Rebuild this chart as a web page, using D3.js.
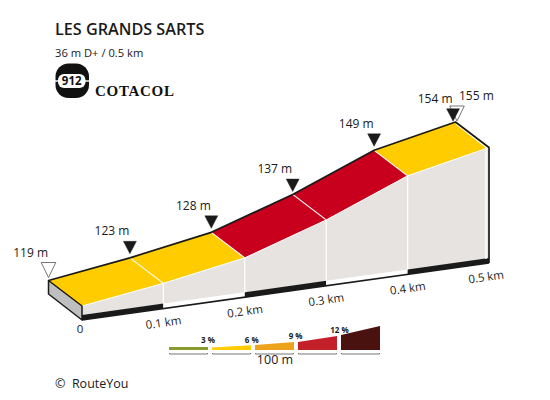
<!DOCTYPE html>
<html><head><meta charset="utf-8">
<script src="https://cdn.jsdelivr.net/npm/d3@7"></script>
<style>html,body{margin:0;padding:0;background:#fff}svg{display:block}text{font-family:"Open Sans",sans-serif;fill:#1a1a1a;white-space:pre}</style>
</head><body><svg id="c" width="550" height="400"></svg>
<script>
const title = "LES GRANDS SARTS";
const subtitle = "36 m D+ / 0.5 km";
const cotacolNumber = "912";
const cotacolName = "COTACOL";
const credit = "\u00A9  RouteYou";
const distances = [0, 0.1, 0.2, 0.3, 0.4, 0.5];
const elevations = [119, 123, 128, 137.4, 149, 155];
const distanceLabels = ["0", "0.1 km", "0.2 km", "0.3 km", "0.4 km", "0.5 km"];
const markerDistances = [0, 0.1, 0.2, 0.3, 0.4, 0.497, 0.5];
const markerElevations = [119, 123, 128, 137, 149, 154, 155];
const markerLabels = ["119 m", "123 m", "128 m", "137 m", "149 m", "154 m", "155 m"];
const markerHollow = [true, false, false, false, false, false, true];
const gradeBreaks = [3, 6, 9, 12];
const gradeColors = ["#8a9a2e", "#ffcc00", "#eda31c", "#c8001e", "#4a120e"];
const legendLabels = ["3 %", "6 %", "9 %", "12 %", ""];
const legendColors = ["#8a9a2e", "#ffcc00", "#eda31c", "#c4202a", "#4a120e"];
const legendStart = [3, 2.5, 5, 8, 15];
const legendEnd = [3, 4.7, 8, 14, 24];
const legendLength = "100 m";

const svg = d3.select("#c");
const X = d3.scaleLinear().domain([0, 0.5]).range([82, 489]);
const baseY = d3.scaleLinear().domain([0, 0.5]).range([320, 263]);
const H = d3.scaleLinear().domain([119, 155]).range([14, 115.5]);
const depth = [-33.5, -25.5];
const front = (d, e) => [X(d), baseY(d) - H(e)];
const back = (d, e) => [X(d) + depth[0], baseY(d) - H(e) + depth[1]];
const grade = pct => gradeColors[d3.bisectLeft(gradeBreaks, Math.round(pct * 10) / 10)];
const line = d3.line();
const N = distances.length;

// side wall
svg.append("path").attr("fill", "#e7e3e0").attr("d", line([
  ...distances.map((d, i) => front(d, elevations[i])),
  [X(0.5), baseY(0.5) - 4], [X(0), baseY(0) - 5]
]) + "Z");

// base strips (alternating)
for (let i = 0; i < N - 1; i++) {
  const a = distances[i], b = distances[i + 1];
  svg.append("path").attr("fill", i % 2 === 0 ? "#1a1a1a" : "#fff").attr("d", line([
    [X(a), baseY(a) - 5], [X(b), baseY(b) - 5], [X(b), baseY(b)], [X(a), baseY(a)]
  ]) + "Z");
}
svg.append("path").attr("fill", "none").attr("stroke", "#1a1a1a").attr("stroke-width", 1.6)
  .attr("d", line([[X(0), baseY(0)], [X(0.5), baseY(0.5)]]));

// road segments
for (let i = 0; i < N - 1; i++) {
  const pct = (elevations[i + 1] - elevations[i]) / ((distances[i + 1] - distances[i]) * 1000) * 100;
  svg.append("path").attr("fill", grade(pct)).attr("d", line([
    back(distances[i], elevations[i]), back(distances[i + 1], elevations[i + 1]),
    front(distances[i + 1], elevations[i + 1]), front(distances[i], elevations[i])
  ]) + "Z");
}
// white dividers
distances.forEach((d, i) => {
  const f = front(d, elevations[i]);
  if (i > 0 && i < N - 1) {
    svg.append("path").attr("stroke", "#fff").attr("stroke-width", 1.1).attr("fill", "none")
      .attr("d", line([back(d, elevations[i]), f]));
    svg.append("path").attr("stroke", "#fff").attr("stroke-width", 1.3).attr("fill", "none")
      .attr("d", line([f, [X(d), baseY(d) - 5]]));
  }
});
svg.append("path").attr("stroke", "#fff").attr("stroke-width", 1).attr("fill", "none")
  .attr("d", line(distances.map((d, i) => front(d, elevations[i]))));

// right white stripe and black edge
const fEnd = front(0.5, 155), bEnd = back(0.5, 155);
svg.append("path").attr("stroke", "#fff").attr("stroke-width", 1.4).attr("fill", "none")
  .attr("d", line([[fEnd[0] - 3, fEnd[1] + 1], [fEnd[0] - 3, baseY(0.5) - 4]]));
svg.append("path").attr("stroke", "#fff").attr("stroke-width", 1.4).attr("fill", "none")
  .attr("d", line([[bEnd[0] + 1, bEnd[1] + 2], [fEnd[0] - 1.5, fEnd[1] + 1]]));
svg.append("path").attr("stroke", "#1a1a1a").attr("stroke-width", 1.7).attr("fill", "none")
  .attr("stroke-linejoin", "round")
  .attr("d", line([...distances.map((d, i) => back(d, elevations[i])), fEnd, [X(0.5), baseY(0.5)]]));

// start cap
svg.append("path").attr("fill", "#bfbfbf").attr("stroke", "#1a1a1a").attr("stroke-width", 1.5)
  .attr("stroke-linejoin", "round").attr("d", line([
    back(0, 119), front(0, 119), [X(0), baseY(0)], [X(0) + depth[0], baseY(0) - H(119) + depth[1] + 13.5]
  ]) + "Z");

// markers
markerDistances.forEach((d, i) => {
  const last = i === markerDistances.length - 1;
  const p = back(d, markerElevations[i]);
  const gap = last ? 1 : markerHollow[i] ? 3 : 4;
  const ax = p[0] + (last ? 1.5 : 0), ay = p[1] - gap;
  const w = markerHollow[i] ? 7.3 : 6.5, h = markerHollow[i] ? 15 : 12.5;
  svg.append("path").attr("d", line([[ax - w, ay - h], [ax + w, ay - h], [ax, ay]]) + "Z")
    .attr("fill", markerHollow[i] ? "#fff" : "#1a1a1a")
    .attr("fill-opacity", markerHollow[i] ? 0 : 1)
    .attr("stroke", markerHollow[i] ? "#555" : "#1a1a1a").attr("stroke-width", markerHollow[i] ? 0.8 : 0.4)
    .lower();
  svg.append("text").text(markerLabels[i]).attr("font-size", 12)
    .attr("x", last ? ax + 2 : ax - 0.5).attr("y", ay - h - (last ? 6 : 6))
    .attr("text-anchor", last ? "start" : "end");
});

// distance labels
distances.forEach((d, i) => {
  const x = X(d) + (i === 0 ? -2 : i === N - 1 ? -3 : 0), y = baseY(d) + (i === 0 ? 8 : 13.5);
  svg.append("text").text(distanceLabels[i]).attr("font-size", 11.5)
    .attr("text-anchor", "middle").attr("dominant-baseline", "central")
    .attr("transform", `translate(${x},${y}) rotate(${i === 0 ? 0 : -8})`);
});

// titles
svg.append("text").text(title).attr("x", 55).attr("y", 35).attr("font-size", 16.2).attr("font-weight", 600);
svg.append("text").text(subtitle).attr("x", 55).attr("y", 57).attr("font-size", 11.2);

// cotacol badge
svg.append("rect").attr("x", 55.5).attr("y", 63.5).attr("width", 33.5).attr("height", 34.5).attr("rx", 13).attr("fill", "#111");
svg.append("rect").attr("x", 58).attr("y", 74).attr("width", 27.5).attr("height", 14).attr("rx", 6).attr("fill", "#fff");
svg.append("rect").attr("x", 55).attr("y", 80.3).attr("width", 3.5).attr("height", 1.4).attr("fill", "#fff");
svg.append("rect").attr("x", 85).attr("y", 80.3).attr("width", 4.5).attr("height", 1.4).attr("fill", "#fff");
svg.append("text").text(cotacolNumber).attr("x", 71.7).attr("y", 85).attr("text-anchor", "middle")
  .attr("font-size", 11.5).attr("font-weight", 700).style("fill", "#111");
svg.append("text").text(cotacolName).attr("x", 95).attr("y", 95.5)
  .style("font-family", "'Liberation Serif',serif").attr("font-weight", 700).attr("font-size", 15)
  .attr("textLength", 79).style("fill", "#111");

// legend
const legW = 39, legBase = 350;
const legH = d3.scaleLinear().domain([0, 24]).range([0, 24]);
legendColors.forEach((c, i) => {
  const x0 = 169 + i * 43;
  svg.append("path").attr("fill", c).attr("d", line([
    [x0, legBase], [x0, legBase - legH(legendStart[i])],
    [x0 + legW, legBase - legH(legendEnd[i])], [x0 + legW, legBase]
  ]) + "Z");
  svg.append("path").attr("fill", "none").attr("stroke", "#777").attr("stroke-width", 1)
    .attr("d", line([[x0 + .5, 353], [x0 + .5, 354], [x0 + legW - .5, 354], [x0 + legW - .5, 353]]));
  if (legendLabels[i]) svg.append("text").text(legendLabels[i])
    .attr("x", x0 + legW + i * 0.8).attr("y", legBase - legH(legendEnd[i]) - (i === 0 ? 4 : i === 1 ? 2.3 : 3.5))
    .attr("text-anchor", "middle").attr("font-size", 8).attr("font-weight", 700);
});
svg.append("text").text(legendLength).attr("x", 275).attr("y", 364).attr("text-anchor", "middle").attr("font-size", 12.5);
svg.append("text").text(credit).attr("x", 55).attr("y", 388).attr("font-size", 12.5);
</script></body></html>
